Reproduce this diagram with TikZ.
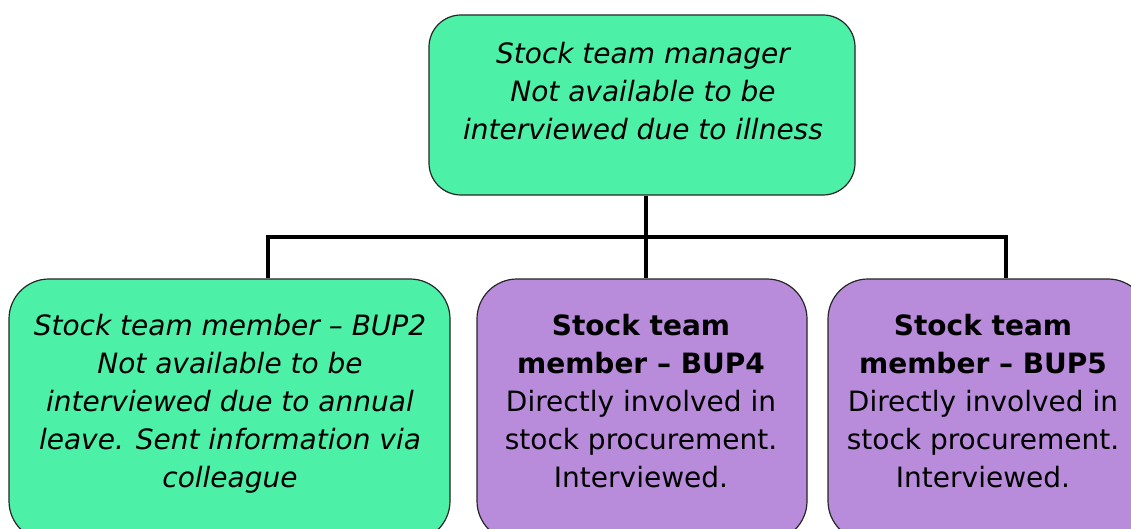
\documentclass[tikz,border=0pt]{standalone}
\usepackage{fontspec}
\setmainfont{DejaVu Sans}
\begin{document}
\begin{tikzpicture}[x=1pt,y=-1pt,
  box/.style={draw=black!85, line width=1.2pt, inner sep=0pt},
  greenbox/.style={box, fill=boxgreen},
  purplebox/.style={box, fill=boxpurple},
  txt/.style={align=center, inner sep=0pt, font=\fontsize{28}{38}\selectfont},
  conn/.style={draw=black, line width=4pt, line join=miter}]
\definecolor{boxgreen}{RGB}{76,240,166}
\definecolor{boxpurple}{RGB}{185,140,219}
\useasboundingbox (0,0) rectangle (1131,529);
\clip (0,0) rectangle (1131,529);
\fill[white] (0,0) rectangle (1131,529);
% boxes
\node[greenbox, rounded corners=32pt, minimum width=426pt, minimum height=180pt] (top) at (642,105) {};
\node[greenbox, rounded corners=40pt, minimum width=441pt, minimum height=262pt] (left) at (229.5,410) {};
\node[purplebox, rounded corners=40pt, minimum width=330pt, minimum height=262pt] (mid) at (642,410) {};
\node[purplebox, rounded corners=40pt, minimum width=320pt, minimum height=262pt] (right) at (988,410) {};
% texts
\node[txt, font=\fontsize{28}{38}\selectfont\itshape] (toptext) at (643,91)
  {Stock team manager\\Not available to be\\interviewed due to illness};
\node[txt, font=\fontsize{28}{38}\selectfont\itshape] (lefttext) at (230,404)
  {Stock team member -- BUP2\\Not available to be\\interviewed due to annual\\leave. Sent information via\\colleague};
\node[txt] (midtext) at (641,401)
  {\textbf{Stock team}\\\textbf{member -- BUP4}\\Directly involved in\\stock procurement.\\Interviewed.};
\node[txt] (righttext) at (983,401)
  {\textbf{Stock team}\\\textbf{member -- BUP5}\\Directly involved in\\stock procurement.\\Interviewed.};
% connectors
\coordinate (jL) at (268,237);
\coordinate (jM) at (646,237);
\coordinate (jR) at (1006,237);
\draw[conn] (top.south -| jM) -- (jM);
\draw[conn] (left.north -| jL) -- (jL) -- (jR) -- (right.north -| jR);
\draw[conn] (jM) -- (mid.north -| jM);
\end{tikzpicture}
\end{document}
